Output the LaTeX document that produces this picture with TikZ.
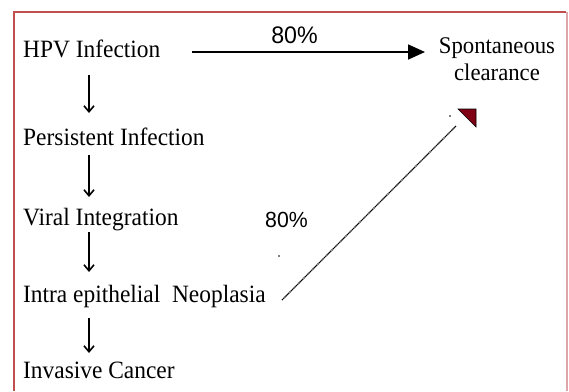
\documentclass[tikz,border=0pt]{standalone}
\usepackage{fontspec}
\setmainfont{Liberation Serif}
\newfontfamily\arialf{Liberation Sans}
\usetikzlibrary{arrows.meta,calc}
\definecolor{frameRed}{RGB}{192,80,77}
\definecolor{framePink}{RGB}{222,165,170}
\definecolor{headRed}{RGB}{128,0,20}
\tikzset{
  lbl/.style={anchor=base west, inner sep=0pt, font=\fontsize{25}{26}\selectfont, xscale=0.94},
  pct/.style={anchor=base, inner sep=0pt, font=\arialf\fontsize{24}{26}\selectfont, xscale=0.97},
  dn/.style={line width=1.4bp, -{Straight Barb[length=6bp,width=10bp,line width=1.6bp]}},
  hz/.style={line width=1.7bp, -{Triangle[length=17bp,width=15bp]}},
  dg/.style={line width=1.2bp, dash pattern=on 1.2bp off 0.6bp},
}
\begin{document}
\begin{tikzpicture}[x=1bp,y=-1bp]
\useasboundingbox (0,0) rectangle (569,391);
\fill[white] (0,0) rectangle (569,391);
% frame
\draw[frameRed, line width=2bp] (14,391) -- (14,12) -- (566,12);
\draw[framePink, line width=2bp] (567,12) -- (567,391);
% labels
\node[lbl] (hpv) at (23,57) {HPV Infection};
\node[lbl] (pers) at (23,145) {Persistent Infection};
\node[lbl] (viral) at (23,225) {Viral Integration};
\node[lbl] (cin) at (23,302) {Intra epithelial\ \ Neoplasia};
\node[lbl] (inv) at (23,378) {Invasive Cancer};
\node[anchor=base, inner sep=0pt, align=center, font=\fontsize{24}{27}\selectfont, xscale=0.95] (spont) at (497,80) {Spontaneous\\clearance};
\node[pct] (p80a) at (294.5,43) {80\%};
\node[pct, font=\arialf\fontsize{22}{24}\selectfont] (p80b) at (286.5,227) {80\%};
% column for down arrows
\coordinate (colx) at (89,0);
\draw[dn] ([yshift=-18bp]hpv.base -| colx) -- ([yshift=32bp]pers.base -| colx);
\draw[dn] ([yshift=-10bp]pers.base -| colx) -- ([yshift=28bp]viral.base -| colx);
\draw[dn] ([yshift=-7bp]viral.base -| colx) -- ([yshift=30bp]cin.base -| colx);
\draw[dn] ([yshift=-16bp]cin.base -| colx) -- ([yshift=25bp]inv.base -| colx);
% horizontal arrow to spontaneous clearance
\coordinate (hstart) at (192,52);
\coordinate (htip) at (425,52);
\draw[hz] (hstart) -- (htip);
% diagonal dotted line with red head
\coordinate (dstart) at (282,300);
\coordinate (dend) at (456,126);
\draw[dg] (dstart) -- (dend);
\filldraw[fill=headRed, draw=black, line width=0.6bp] (458,109) -- (476,109) -- (476,127) -- cycle;
% stray dots
\fill (279,256) circle (0.8);
\fill (450,116) circle (0.8);
\end{tikzpicture}
\end{document}
